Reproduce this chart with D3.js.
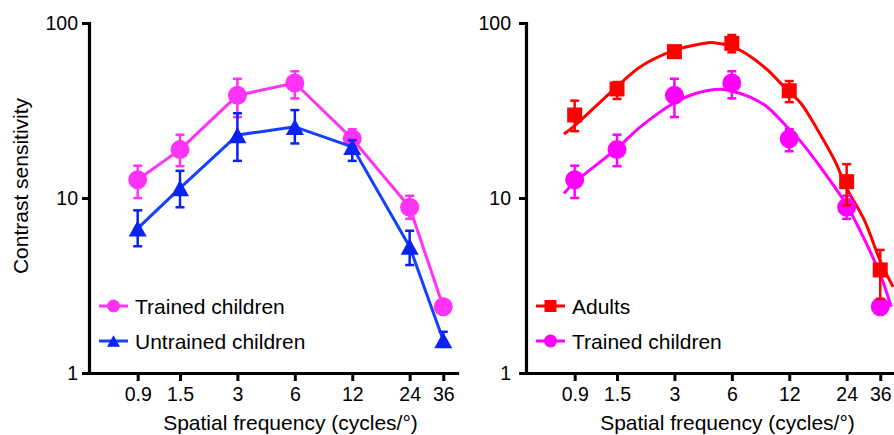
<!DOCTYPE html>
<html><head><meta charset="utf-8">
<script src="https://cdn.jsdelivr.net/npm/d3@7"></script>
<style>
body{margin:0;background:#fff;}
svg text{font-family:"Liberation Sans",Arial,Helvetica,sans-serif;fill:#000;}
</style></head>
<body><svg id="c" width="894" height="435"></svg>
<script>
// ---- data ----
const freqs = [0.9, 1.5, 3, 6, 12, 24, 36];
const xTickLabels = ["0.9", "1.5", "3", "6", "12", "24", "36"];
const yTicks = [1, 10, 100];

const trainedMean = [12.7, 18.9, 38.6, 45.4, 21.8, 8.85, 2.39];
const trainedHi   = [15.3, 23.0, 48.0, 53.0, 24.7, 10.3, 2.58];
const trainedLo   = [10.0, 15.2, 29.0, 37.1, 18.5, 7.6, 2.2];

const untrainedMean = [6.7, 11.4, 22.9, 25.5, 19.6, 5.27, 1.54];
const untrainedHi   = [8.5, 14.3, 30.5, 31.8, 21.4, 6.5, 1.72];
const untrainedLo   = [5.3, 8.85, 16.3, 20.5, 16.3, 4.14, 1.42];

const adultMean = [29.8, 42.0, 68.6, 76.5, 41.0, 12.4, 3.88];
const adultHi   = [36.0, 46.0, 72.0, 85.4, 46.6, 15.6, 5.05];
const adultLo   = [24.1, 36.8, 65.0, 68.0, 35.3, 9.1, 2.65];

// fitted curves (sampled along the drawn curves)
const fitFreq    = [0.79, 0.885, 1.5, 1.99, 2.97, 4.11, 4.83, 6.04, 7.54, 9.23, 11.8, 13.8, 16.9, 20.7, 24.3, 29.7, 36.4, 42.0];
const fitAdults  = [23.2, 25.5, 43.3, 56.3, 69.5, 75.9, 77.2, 73.2, 64.2, 53.9, 41.0, 34.8, 24.5, 16.5, 11.1, 7.48, 4.24, 3.11];
const fitFreqT   = [0.79, 0.885, 1.5, 1.99, 2.97, 3.80, 5.23, 6.15, 7.54, 9.23, 11.7, 13.8, 16.9, 20.7, 24.3, 31.0, 36.4, 41.1];
const fitTrained = [10.6, 12.1, 19.2, 25.5, 34.8, 39.3, 41.8, 40.5, 37.6, 33.0, 25.4, 21.0, 15.8, 11.6, 8.92, 5.27, 3.55, 2.39];

const colMagL = "#ff33f6", colBlueLine = "#1540ff", colBlueMark = "#0a22f2";
const colRed = "#ff0000", colMagR = "#ff00ff";

const svg = d3.select("#c");
const tickFont = "19.5px", labFont = "21px";

function panel(ax, opts){
  const g = svg.append("g");
  const x = d3.scaleLog().domain([0.5, 42.5]).range([ax, ax + 368]);
  const y = d3.scaleLog().domain([1, 100]).range([373, 23]);

  // axes
  const ya = g.append("g").attr("transform", `translate(${ax},0)`)
    .call(d3.axisLeft(y).tickValues(yTicks).tickFormat(d3.format("d")).tickSize(7).tickSizeOuter(0).tickPadding(opts.yPad));
  const xa = g.append("g").attr("transform", `translate(0,373)`)
    .call(d3.axisBottom(x).tickValues(freqs).tickFormat((d,i)=>xTickLabels[i]).tickSize(8).tickSizeOuter(0).tickPadding(6));
  [ya, xa].forEach(a=>{
    a.select(".domain").attr("stroke","#000").attr("stroke-width",3.2).attr("stroke-linecap","square");
    a.selectAll(".tick line").attr("stroke","#000").attr("stroke-width",3);
    a.selectAll("text").style("font-size", tickFont).attr("fill","#000");
  });

  g.append("text").attr("x", (x(0.9)+x(36))/2).attr("y", 430).attr("text-anchor","middle")
    .style("font-size", labFont).text("Spatial frequency (cycles/°)");
  return {g, x, y};
}

function marker(sel, type, cx, cy, s, col){
  if(type === "circle"){
    sel.append("circle").attr("cx",cx).attr("cy",cy).attr("r",s/2).attr("fill",col);
  } else if(type === "square"){
    sel.append("rect").attr("x",cx-s/2).attr("y",cy-s/2).attr("width",s).attr("height",s).attr("fill",col);
  } else {
    const h = s*0.9;
    sel.append("path").attr("d",`M${cx},${cy-h/2}L${cx+s/2},${cy+h/2}L${cx-s/2},${cy+h/2}Z`).attr("fill",col);
  }
}

function series(P, mean, hi, lo, type, lineCol, markCol, drawLine){
  const {g,x,y} = P;
  const s = g.append("g");
  if(drawLine){
    s.append("path").datum(freqs.map((f,i)=>[f,mean[i]]))
      .attr("d", d3.line().x(d=>x(d[0])).y(d=>y(d[1])))
      .attr("fill","none").attr("stroke",lineCol).attr("stroke-width",3).attr("stroke-linejoin","round");
  }
  freqs.forEach((f,i)=>{
    marker(s, type, x(f), y(mean[i]), type==="square"?15:(type==="circle"?19:18), markCol);
  });
  freqs.forEach((f,i)=>{
    const cx = x(f);
    s.append("line").attr("x1",cx).attr("x2",cx).attr("y1",y(hi[i])).attr("y2",y(lo[i]))
      .attr("stroke",markCol).attr("stroke-width",2.5);
    [hi[i],lo[i]].forEach(v=>{
      s.append("line").attr("x1",cx-4.5).attr("x2",cx+4.5).attr("y1",y(v)).attr("y2",y(v))
        .attr("stroke",markCol).attr("stroke-width",2.5);
    });
  });
}

function fitCurve(P, fx, fy, col){
  P.g.append("path").datum(fx.map((f,i)=>[f,fy[i]]))
    .attr("d", d3.line().curve(d3.curveCatmullRom).x(d=>P.x(d[0])).y(d=>P.y(d[1])))
    .attr("fill","none").attr("stroke",col).attr("stroke-width",3);
}

function legend(P, x0, rows){
  rows.forEach((r,i)=>{
    const yy = 306 + i*35;
    P.g.append("line").attr("x1",x0).attr("x2",x0+29).attr("y1",yy).attr("y2",yy)
      .attr("stroke",r.lineCol).attr("stroke-width",3);
    marker(P.g, r.type, x0+14.5, yy, r.type==="square"?12:13, r.markCol);
    P.g.append("text").attr("x",x0+36).attr("y",yy+7.5).style("font-size",labFont).text(r.label);
  });
}

// left panel
const L = panel(89, {yPad:4});
svg.append("text").attr("transform","translate(28,186) rotate(-90)").attr("text-anchor","middle")
  .style("font-size",labFont).text("Contrast sensitivity");
series(L, trainedMean, trainedHi, trainedLo, "circle", colMagL, colMagL, true);
series(L, untrainedMean, untrainedHi, untrainedLo, "triangle", colBlueLine, colBlueMark, true);
legend(L, 99, [
  {label:"Trained children", type:"circle", lineCol:colMagL, markCol:colMagL},
  {label:"Untrained children", type:"triangle", lineCol:colBlueLine, markCol:colBlueMark}
]);

// right panel
const R = panel(526, {yPad:8});
fitCurve(R, fitFreqT, fitTrained, colMagR);
fitCurve(R, fitFreq, fitAdults, colRed);
series(R, trainedMean, trainedHi, trainedLo, "circle", colMagR, colMagR, false);
series(R, adultMean, adultHi, adultLo, "square", colRed, colRed, false);
legend(R, 536, [
  {label:"Adults", type:"square", lineCol:colRed, markCol:colRed},
  {label:"Trained children", type:"circle", lineCol:colMagR, markCol:colMagR}
]);
</script></body></html>
